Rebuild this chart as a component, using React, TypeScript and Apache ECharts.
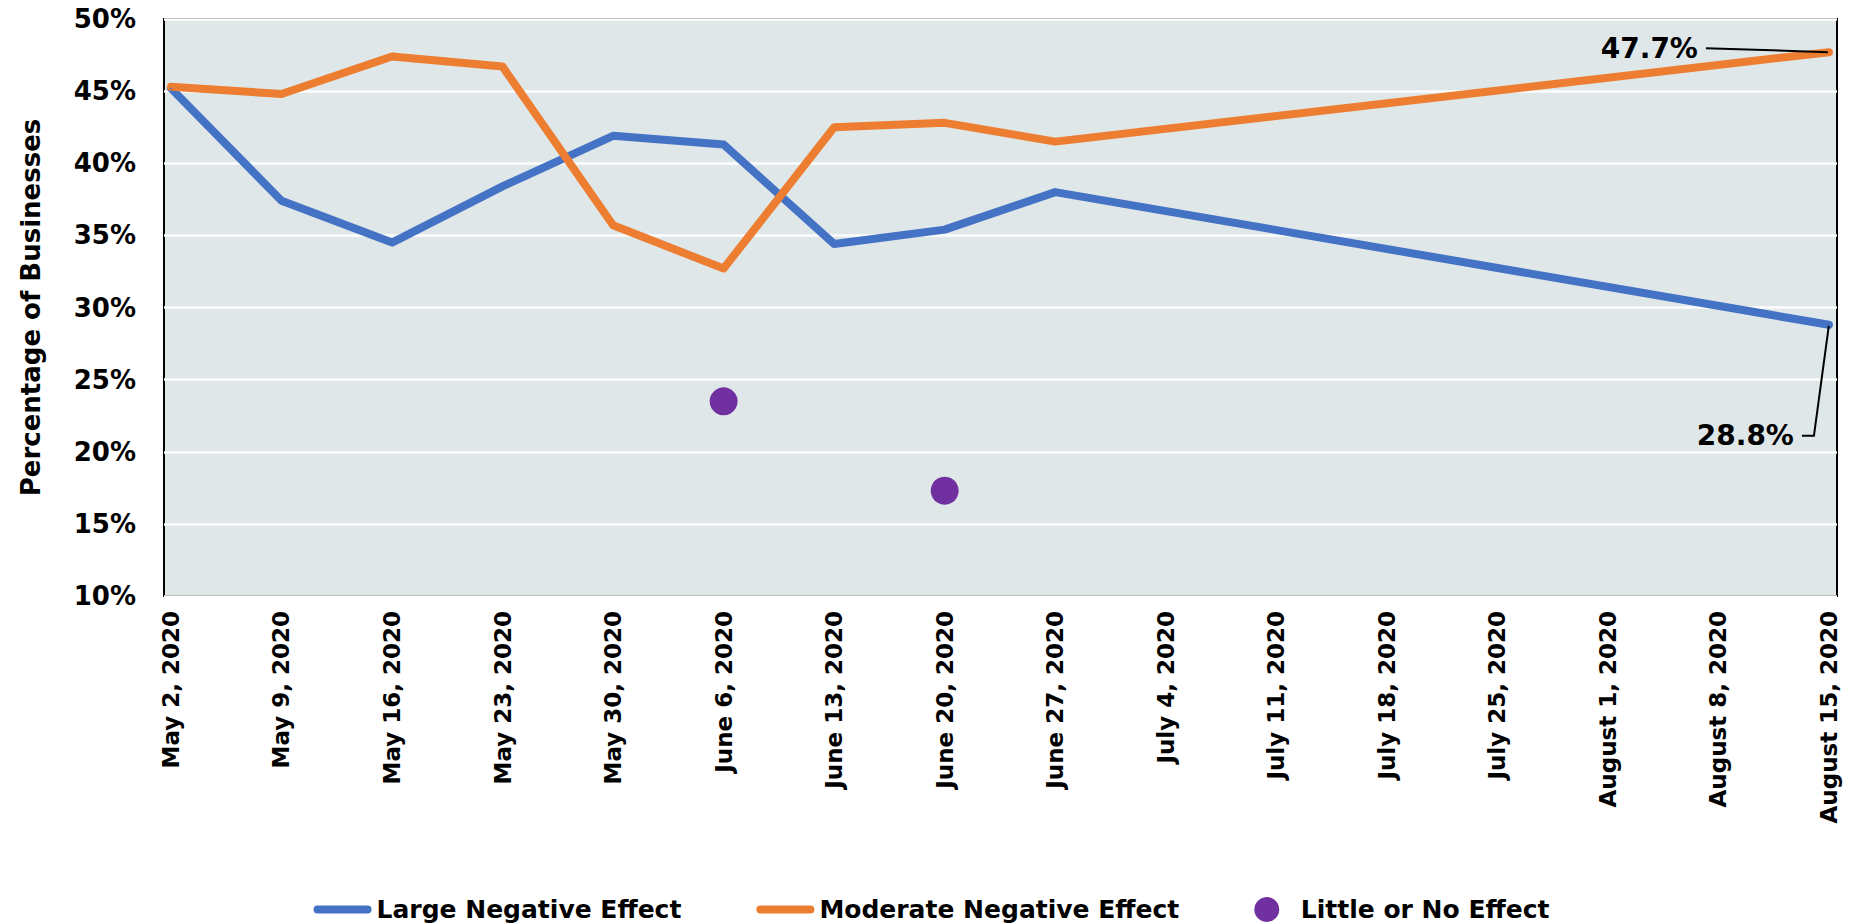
import React, { useEffect, useRef } from "react";
import * as echarts from "echarts";

// Survey weeks (x axis)
const weeks = [
  "May 2, 2020",
  "May 9, 2020",
  "May 16, 2020",
  "May 23, 2020",
  "May 30, 2020",
  "June 6, 2020",
  "June 13, 2020",
  "June 20, 2020",
  "June 27, 2020",
  "July 4, 2020",
  "July 11, 2020",
  "July 18, 2020",
  "July 25, 2020",
  "August 1, 2020",
  "August 8, 2020",
  "August 15, 2020",
];

// Share of businesses (%) per week; null = no survey reading that week
const largeNegative = [45.2, 37.4, 34.5, 38.4, 41.9, 41.3, 34.4, 35.4, 38.0, null, null, null, null, null, null, 28.8];
const moderateNegative = [45.3, 44.8, 47.4, 46.7, 35.7, 32.7, 42.5, 42.8, 41.5, null, null, null, null, null, null, 47.7];
const littleOrNone = [null, null, null, null, null, 23.5, null, 17.3, null, null, null, null, null, null, null, null];

const yTicks = { min: 10, max: 50, step: 5 };

const FONT = "DejaVu Sans";
const BLUE = "#4472c4";
const ORANGE = "#ed7d31";
const PURPLE = "#7030a0";

const toPairs = (arr: (number | null)[]) => arr.map((v, i) => [i, v]);
const lastIdx = weeks.length - 1;

// rounded bar used as the legend icon for the two line series
const lineIcon = "path://M4,0 L54,0 A4,4 0 0 1 54,8 L4,8 A4,4 0 0 1 4,0 Z";

export default function App() {
  const ref = useRef<HTMLDivElement>(null);

  useEffect(() => {
    if (!ref.current) return;
    const chart = echarts.init(ref.current, null, { renderer: "svg" });

    // value label on the final week, pulled away from the point with a leader line
    const buildLine = (
      name: string,
      values: (number | null)[],
      color: string,
      dx: number,
      dy: number,
      length2: number
    ) => {
      const endLabel = {
        show: true,
        position: "left",
        distance: 5,
        padding: [0, 8, 0, 8],
        backgroundColor: "rgba(0,0,0,0)",
        formatter: (p: any) => `${p.value[1].toFixed(1)}%`,
        fontFamily: FONT,
        fontWeight: "bold",
        fontSize: 28,
        color: "#000",
      };
      const endLabelLine = {
        show: true,
        length2,
        smooth: false,
        lineStyle: { color: "#000", width: 2 },
      };
      const data = toPairs(values).map((pt, i) =>
        i === lastIdx ? { value: pt, label: endLabel, labelLine: endLabelLine } : { value: pt }
      );
      return {
        name,
        type: "line",
        data,
        connectNulls: true,
        showSymbol: true,
        symbol: "circle",
        symbolSize: 2,
        itemStyle: { color },
        lineStyle: { color, width: 8, cap: "round", join: "round" },
        label: { show: false },
        labelLayout: (p: any) => (p.dataIndex === lastIdx ? { dx, dy } : {}),
        emphasis: { disabled: true },
        z: 3,
      };
    };

    const option: any = {
      animation: false,
      backgroundColor: "#ffffff",
      textStyle: { fontFamily: FONT },
      grid: {
        left: 164,
        top: 19,
        width: 1673,
        height: 577,
        show: true,
        backgroundColor: "#dfe7e8",
        borderColor: "#000",
        borderWidth: 2,
        outerBoundsMode: "none",
        containLabel: false,
      },
      xAxis: {
        type: "value",
        min: -0.063,
        max: 15.073,
        axisLine: { show: false },
        axisTick: { show: false },
        splitLine: { show: false },
        axisLabel: {
          customValues: weeks.map((_, i) => i),
          formatter: (v: number) => weeks[Math.round(v)] ?? "",
          rotate: 90,
          margin: 15,
          fontFamily: FONT,
          fontWeight: "bold",
          fontSize: 23,
          color: "#000",
        },
      },
      yAxis: {
        type: "value",
        min: yTicks.min,
        max: yTicks.max,
        interval: yTicks.step,
        name: "Percentage of Businesses",
        nameLocation: "middle",
        nameGap: 120,
        nameTextStyle: { fontFamily: FONT, fontWeight: "bold", fontSize: 26, color: "#000" },
        axisLine: { show: false },
        axisTick: { show: false },
        splitLine: { show: true, lineStyle: { color: "#ffffff", width: 2.5 } },
        axisLabel: {
          formatter: "{value}%",
          margin: 28,
          fontFamily: FONT,
          fontWeight: "bold",
          fontSize: 26,
          color: "#000",
        },
      },
      legend: {
        left: "center",
        top: 892,
        itemWidth: 58,
        itemHeight: 25,
        itemGap: 75,
        selectedMode: false,
        textStyle: { fontFamily: FONT, fontWeight: "bold", fontSize: 25, color: "#000" },
        data: [
          { name: "Large Negative Effect", icon: lineIcon },
          { name: "Moderate Negative Effect", icon: lineIcon },
          { name: "Little or No Effect", icon: "circle" },
        ],
      },
      series: [
        buildLine("Large Negative Effect", largeNegative, BLUE, -21, 111, 12),
        buildLine("Moderate Negative Effect", moderateNegative, ORANGE, -117, -4, 0),
        {
          name: "Little or No Effect",
          type: "scatter",
          data: toPairs(littleOrNone).filter((p) => p[1] != null),
          symbol: "circle",
          symbolSize: 28,
          itemStyle: { color: PURPLE, opacity: 1 },
          emphasis: { disabled: true },
          z: 4,
        },
      ],
    };

    chart.setOption(option);
    return () => chart.dispose();
  }, []);

  return (
    <div
      ref={ref}
      style={{ position: "fixed", left: 0, top: 0, width: "1863px", height: "924px" }}
    />
  );
}
